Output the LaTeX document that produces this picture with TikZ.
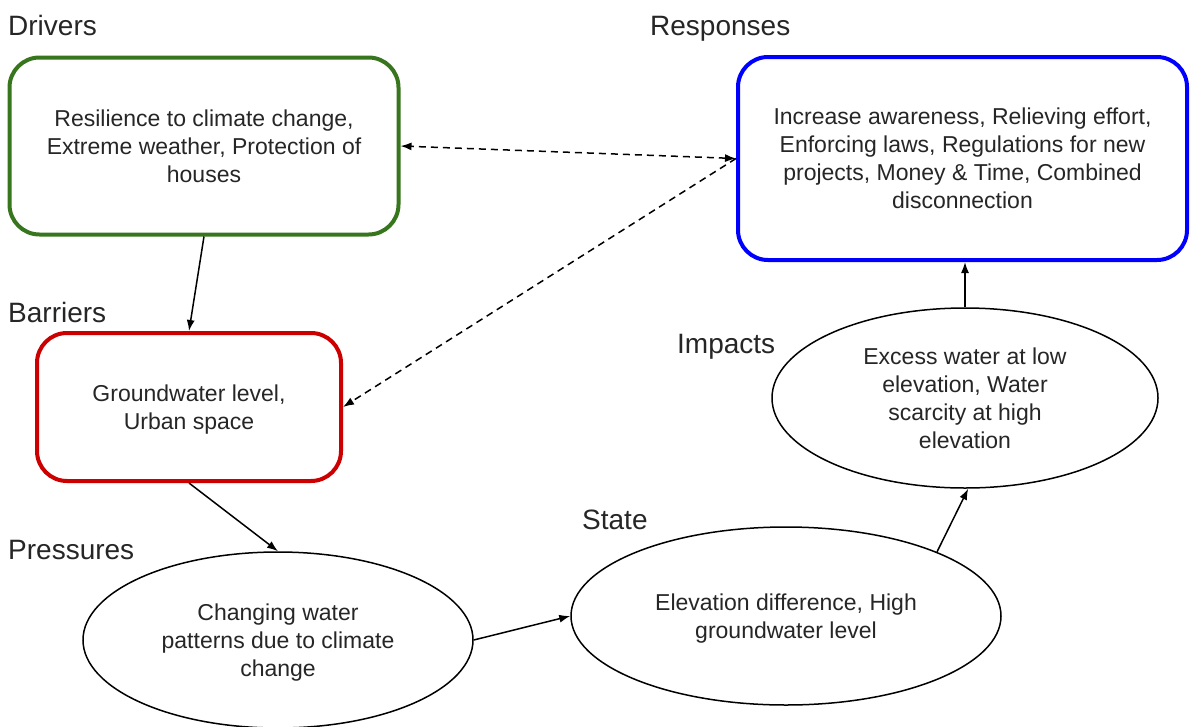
\documentclass[tikz,border=0pt]{standalone}
\usepackage{fontspec}
\setmainfont{Liberation Sans}
\usetikzlibrary{shapes.geometric,arrows.meta}
\definecolor{dgreen}{HTML}{38761D}
\definecolor{dred}{HTML}{CC0000}
\definecolor{dblue}{HTML}{0000FF}
\definecolor{txt}{HTML}{262626}
\begin{document}
\begin{tikzpicture}[x=1pt,y=-1pt,
  body/.style={font=\fontsize{23}{28}\selectfont, text=txt, align=center, text depth=0pt},
  lab/.style={font=\fontsize{28}{32}\selectfont, text=txt, anchor=base west, inner sep=0pt},
  rbox/.style={body, draw, rectangle, rounded corners=30pt, line width=4pt, inner sep=0pt},
  ell/.style={body, draw, ellipse, line width=1.5pt, inner sep=0pt},
  arr/.style={line width=1.5pt, -{Latex[length=11pt,width=8pt]}},
  darr/.style={line width=1.5pt, dash pattern=on 7pt off 5pt, -{Latex[length=11pt,width=8pt]}}
]
\useasboundingbox (0,0) rectangle (1191,726);
\fill[white] (0,0) rectangle (1191,726);

% boxes
\node[rbox, draw=dgreen, minimum width=389pt, minimum height=177pt] (drivers) at (204,146)
  {Resilience to climate change,\\Extreme weather, Protection of\\houses};
\node[rbox, draw=dblue, minimum width=449pt, minimum height=203pt] (responses) at (962.5,158.5)
  {Increase awareness, Relieving effort,\\Enforcing laws, Regulations for new\\projects, Money \& Time, Combined\\disconnection};
\node[rbox, draw=dred, minimum width=304pt, minimum height=148pt] (barriers) at (189,407)
  {Groundwater level,\\Urban space};

% ellipses
\node[ell, minimum width=390pt, minimum height=176pt] (pressures) at (278,640)
  {Changing water\\patterns due to climate\\change};
\node[ell, minimum width=430pt, minimum height=178pt] (state) at (786,616)
  {Elevation difference, High\\groundwater level};
\node[ell, minimum width=386pt, minimum height=180pt] (impacts) at (965,398)
  {Excess water at low\\elevation, Water\\scarcity at high\\elevation};

% labels
\node[lab] (ldrivers) at (8,35) {Drivers};
\node[lab] (lresponses) at (650,35) {Responses};
\node[lab] (lbarriers) at (8,322) {Barriers};
\node[lab] (lpressures) at (8,559) {Pressures};
\node[lab] (lstate) at (582,529) {State};
\node[lab] (limpacts) at (677,353) {Impacts};

% connectors
\draw[arr] (drivers.south) -- (barriers.north);
\draw[arr] (barriers.south) -- (pressures.north);
\draw[arr] (pressures.east) -- (state.west);
\draw[arr] (state.23) -- (impacts.-88);
\draw[arr] (impacts.north) -- (impacts.north |- responses.south);
\draw[darr, {Latex[length=11pt,width=8pt]}-{Latex[length=11pt,width=8pt]}] (responses.west) -- (drivers.east);
\draw[darr] (responses.west) -- (barriers.east);
\end{tikzpicture}
\end{document}
